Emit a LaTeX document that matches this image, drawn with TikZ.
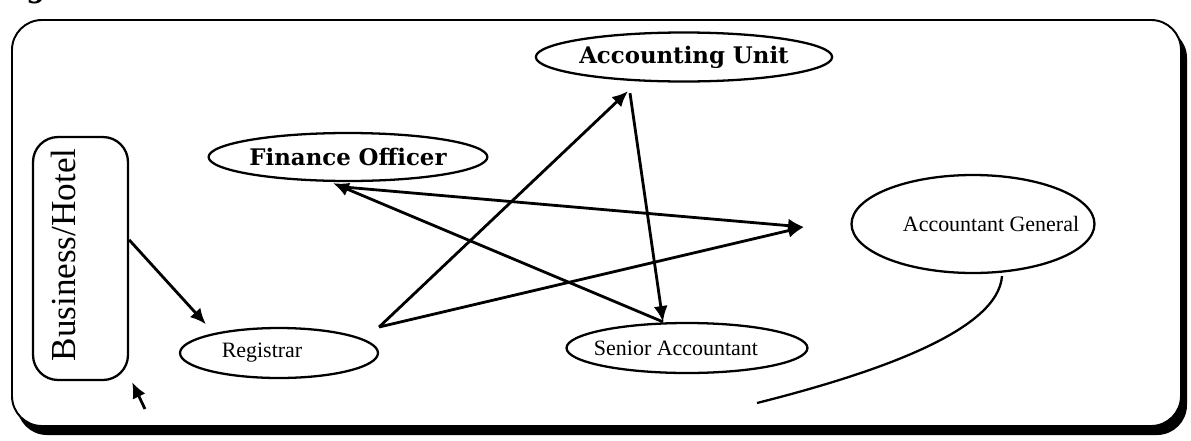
\documentclass[tikz,border=0pt]{standalone}
\usepackage{fontspec}
\setmainfont{Liberation Serif}
\newfontfamily\unitfont{DejaVu Serif}
\usepackage{tikz}
\usetikzlibrary{shapes.geometric,arrows.meta,calc}

\tikzset{
    unit/.style={ellipse, draw, line width=1.3pt, inner sep=0pt,
        font=\fontsize{12.5}{15}\selectfont},
    unitbold/.style={unit, font=\unitfont\bfseries\fontsize{13}{15}\selectfont},
    bizbox/.style={draw, rounded corners=0.5cm, line width=1.3pt, inner sep=0pt,
        minimum width=1.9cm, minimum height=4.86cm},
    conn/.style={line width=1.6pt, -{Latex[length=9pt,width=8pt]}},
}

\begin{document}
\begin{tikzpicture}[x=0.02cm, y=-0.02cm]
    \useasboundingbox (0,0) rectangle (1191,440);
    % frame with shadow
    \fill[rounded corners=0.6cm] (17,28) rectangle (1187,435);
    \draw[fill=white, line width=1.1pt, rounded corners=0.6cm] (12,20) rectangle (1181,426);
    \node[anchor=base west, font=\fontsize{20}{20}\selectfont\bfseries\itshape] at (-10,-4) (fig) {Fig 2};

    \node[bizbox] at (80.5, 258.5) (bh) {};
    \node[rotate=90, font=\fontsize{20}{24}\selectfont] at (63, 255) (bhtext) {Business/Hotel};
    \node[unitbold, minimum width=4.86cm, minimum height=0.96cm] at (348, 157) (fin) {Finance Officer};
    \node[unitbold, minimum width=4.84cm, minimum height=0.98cm] at (684, 57) (acc) {Accounting Unit};
    \node[unit, minimum width=4.86cm, minimum height=1.96cm] at (973, 224) (ag) {\makebox[0pt]{\hspace*{0.72cm}Accountant General}};
    \node[unit, minimum width=3.96cm, minimum height=1cm] at (279, 353) (reg) {\makebox[0pt]{Registrar\hspace*{0.68cm}}};
    \node[unit, minimum width=4.82cm, minimum height=1cm] at (687, 348) (sen) {\makebox[0pt]{Senior Accountant\hspace*{0.44cm}}};
    \coordinate (tail) at (757, 403);
    \coordinate (stub) at (145, 409);

    \draw[conn, shorten >=0.24cm] (bh.21) -- (reg.163);
    \draw[conn] ($(reg.east)+(0,-26)$) -- ($(acc.south)+(-56,8.5)$);
    \draw[conn] ($(reg.east)+(0,-26)$) -- ($(ag.west)+(-46.5,3)$);
    \draw[conn] ($(fin.south)+(-3,5)$) -- ($(ag.west)+(-46.5,3)$);
    \draw[conn] ($(sen.north)+(-24,0)$) -- ($(fin.south)+(-15,1)$);
    \draw[conn] ($(acc.south)+(-54,10.5)$) -- ($(sen.north)+(-24,0)$);
    \draw[line width=1.3pt] ($(ag.south)+(29,2)$) .. controls (998,330) and (880,372) .. (tail);
    \draw[conn] (stub) -- ($(bh.south east)+(3,1)$);
\end{tikzpicture}
\end{document}
